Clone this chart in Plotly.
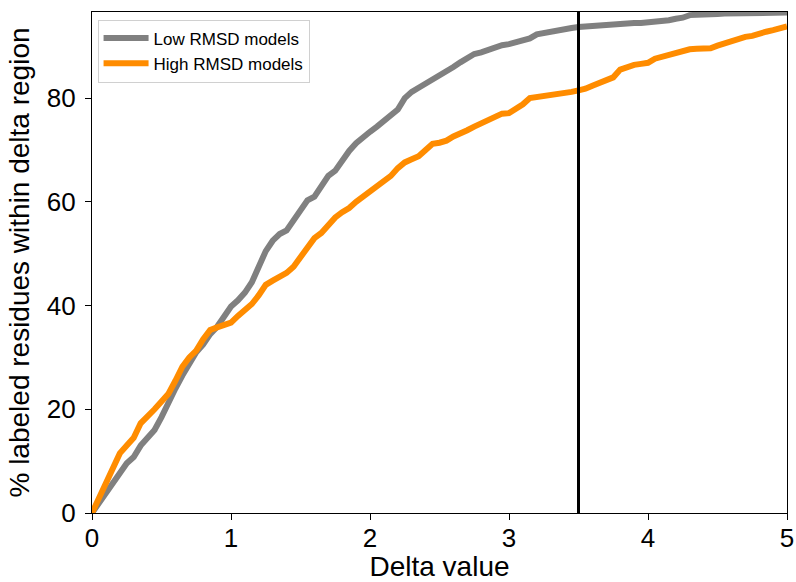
import plotly.graph_objects as go

delta = [round(i * 0.05, 2) for i in range(101)]

low_rmsd = [0, 2, 3.5, 5.5, 8, 9.6, 10.8, 13, 14.5, 16, 18.5, 21.5, 24, 26.5, 28.9, 31, 32.5, 34.5, 35.9, 38,
            39.8, 41, 42.5, 44.5, 47.5, 50.5, 52.5, 53.8, 54.5, 56.5, 58.5, 60.3, 61, 63, 65, 66, 68, 69.8, 71.3, 72.5,
            73.5, 74.5, 75.5, 76.5, 77.8, 80, 81.2, 82, 82.8, 83.3, 84.4, 85.0, 86, 86.9, 87.8, 88.5, 88.8, 89.3, 89.7, 90.2,
            90.4, 90.7, 91.0, 91.5, 92.3, 92.6, 92.8, 93.0, 93.2, 93.5, 93.7, 93.8, 93.9, 94.0, 94.2, 94.4, 94.5, 94.5, 94.5, 94.5,
            94.6, 94.7, 94.8, 95.0, 95.3, 95.5, 96.0, 96.0, 96.1, 96.2, 96.2, 96.3, 96.3, 96.4, 96.4, 96.5, 96.5, 96.5, 96.5, 96.5,
            96.5]

high_rmsd = [0, 3, 5.5, 8.9, 11.5, 13, 14.5, 17.3, 18.5, 20, 21.5, 23, 25.5, 28.2, 30, 31.3, 33.5, 35.3, 35.8, 36.3,
             36.7, 38, 39.2, 40.3, 42, 44, 44.8, 45.5, 46.3, 47.5, 49.2, 51, 53, 54, 55.6, 57, 58, 58.8, 60, 61,
             62, 62.8, 64, 65, 66.5, 67.6, 68.2, 68.8, 70, 71.2, 71.4, 71.8, 72.6, 73.1, 73.8, 74.5, 75.1, 75.7, 76.3, 77,
             77.1, 77.8, 78.8, 80, 80.2, 80.3, 80.4, 80.6, 80.9, 81.2, 81.5, 81.8, 82.4, 82.9, 83.4, 84, 85.5, 86.1, 86.4, 86.6,
             86.8, 87.6, 88.0, 88.3, 88.7, 89.2, 89.4, 89.5, 89.5, 89.6, 90.1, 90.6, 91.1, 91.6, 91.8, 92, 92.5, 92.8, 93.1, 93.5,
             93.8]

threshold = 3.5
x_ticks = [0, 1, 2, 3, 4, 5]
y_ticks = [0, 20, 40, 60, 80]

font_family = "Liberation Sans, Arial, sans-serif"

fig = go.Figure()
fig.add_trace(go.Scatter(x=delta, y=low_rmsd, mode="lines", name="Low RMSD models",
                         line=dict(color="#808080", width=6)))
fig.add_trace(go.Scatter(x=delta, y=high_rmsd, mode="lines", name="High RMSD models",
                         line=dict(color="#FF8C00", width=6)))
fig.add_shape(type="line", x0=threshold, x1=threshold, y0=0, y1=1, xref="x", yref="paper",
              line=dict(color="black", width=3))

fig.update_layout(
    width=796, height=582,
    margin=dict(l=92, r=9, t=12, b=69),
    paper_bgcolor="white", plot_bgcolor="white",
    font=dict(family=font_family, color="black"),
    showlegend=True,
    legend=dict(x=0.008, y=0.985, xanchor="left", yanchor="top",
                bgcolor="rgba(255,255,255,0.8)", bordercolor="#d0d0d0", borderwidth=1,
                font=dict(size=17, family=font_family), itemwidth=45),
    xaxis=dict(range=[0, 5], tickvals=x_ticks, ticks="outside", ticklen=6, tickwidth=1.2,
               tickcolor="black", showline=True, linecolor="black", linewidth=1.2, mirror=True,
               showgrid=False, zeroline=False, tickfont=dict(size=26), automargin=False,
               ticklabelstandoff=-4,
               title=dict(text="Delta value", font=dict(size=28), standoff=2)),
    yaxis=dict(range=[0, 96.6], tickvals=y_ticks, ticks="outside", ticklen=6, tickwidth=1.2,
               tickcolor="black", showline=True, linecolor="black", linewidth=1.2, mirror=True,
               showgrid=False, zeroline=False, tickfont=dict(size=26), automargin=False,
               ticklabelstandoff=4,
               title=dict(text="% labeled residues within delta region", font=dict(size=28), standoff=8)),
)

fig.write_html("out.html", config={"displayModeBar": False},
               post_script="document.body.style.margin='0';document.body.style.padding='0';")
